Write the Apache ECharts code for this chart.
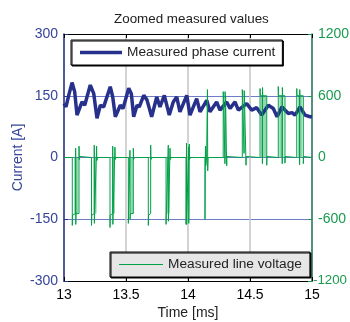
<!DOCTYPE html>
<html><head><meta charset="utf-8">
<script src="https://cdn.jsdelivr.net/npm/echarts@6/dist/echarts.min.js"></script>
<style>html,body{margin:0;padding:0;background:#fff}#c{width:350px;height:322px}</style>
</head><body><div id="c"></div>
<script>
// ---- data ----
const xTicks = [13, 13.5, 14, 14.5, 15];
const leftTicks = [-300, -150, 0, 150, 300];
const rightTicks = [-1200, -600, 0, 600, 1200];

const curT = [13.0,13.016,13.038,13.065,13.086,13.105,13.119,13.145,13.167,13.212,13.24,13.266,13.293,13.32,13.373,13.393,13.414,13.454,13.476,13.522,13.543,13.562,13.589,13.607,13.643,13.669,13.707,13.748,13.774,13.809,13.849,13.881,13.909,13.935,13.99,14.016,14.07,14.097,14.151,14.177,14.231,14.258,14.312,14.339,14.379,14.406,14.444,14.473,14.514,14.554,14.594,14.648,14.688,14.718,14.758,14.809,14.839,14.863,14.903,14.944,14.984,15.0];
const curV = [131,123,151,182,160,103,99,135,127,176,155,95,127,123,172,147,99,127,119,168,155,99,127,123,151,140,99,147,123,151,103,135,147,111,151,103,143,111,139,111,135,115,135,119,135,115,124,131,115,121,103,127,119,99,123,107,109,103,123,103,99,99];

const voltT = [13.000,13.067,13.067,13.069,13.094,13.094,13.095,13.097,13.121,13.121,13.123,13.127,13.132,
 13.222,13.222,13.224,13.244,13.244,13.245,13.247,13.263,13.263,13.265,13.270,
 13.371,13.371,13.373,13.393,13.393,13.394,13.396,13.411,13.411,13.413,13.420,
 13.519,13.519,13.521,13.532,13.532,13.533,13.535,13.559,13.559,13.561,13.568,
 13.680,13.680,13.682,13.699,13.699,13.701,13.708,
 13.823,13.823,13.825,13.841,13.841,13.842,13.844,13.855,13.855,13.857,13.864,
 13.984,13.984,13.986,13.988,13.988,13.989,13.991,14.005,14.005,14.006,14.008,14.010,14.010,14.012,14.020,
 14.137,14.137,14.139,14.141,14.144,14.150,
 14.157,14.157,14.159,14.162,
 14.284,14.284,14.286,14.298,14.298,14.299,14.301,14.312,14.312,14.314,14.320,
 14.438,14.438,14.440,14.452,14.452,14.453,14.455,14.468,14.468,14.470,14.478,
 14.581,14.581,14.583,14.600,14.600,14.601,14.603,14.635,14.635,14.637,14.645,
 14.728,14.728,14.730,14.760,14.760,14.761,14.763,14.782,14.782,14.784,14.792,
 14.877,14.877,14.879,14.900,14.900,14.901,14.903,14.930,14.930,14.932,14.940,15.000];
const voltV = [0,0,-660,-560,-545,90,-650,-545,-545,110,-20,10,0,
 0,-660,-560,-545,120,-640,-545,-545,110,-30,0,
 0,-680,-560,-545,110,-650,-545,-545,100,-20,0,
 0,-640,-560,-545,70,-600,-545,-545,90,-20,0,
 0,-660,-560,-545,120,-20,0,
 0,-650,-560,-545,120,-620,-545,-545,90,-20,0,
 0,-650,-560,-545,140,-650,-545,-545,100,-640,-545,-545,130,-20,0,
 0,-600,-100,110,-80,0,
 0,660,-130,0,
 0,640,600,600,-60,640,600,600,-80,10,0,
 0,660,600,600,40,650,600,600,-75,10,0,
 0,670,600,600,-60,680,600,600,-75,10,0,
 0,690,600,600,-60,680,600,600,-55,10,0,
 0,670,600,600,-70,660,600,600,-60,10,0,0];

// light-green dense switching regions
const fillStart = [13.081,13.244,13.393,13.535,13.830,14.298,14.588,14.736,14.886];
const fillEnd   = [13.115,13.263,13.411,13.556,13.852,14.310,14.630,14.770,14.922];
const fillLevel = [-545,-545,-545,-545,-545,600,600,600,600];

const FONT = 'Liberation Sans, Arial, Helvetica, sans-serif';
const BLUE = '#27318c', BLUE_TXT = '#36449a', GREEN = '#00a046', GREEN_TXT = '#1a9a50';
const plain = v => String(v);

const chart = echarts.init(document.getElementById('c'), null, {renderer: 'canvas'});
chart.setOption({
  animation: false,
  backgroundColor: '#fff',
  title: {text: 'Zoomed measured values', left: 109, top: 8,
    textStyle: {fontSize: 13.4, fontWeight: 'normal', color: '#222', fontFamily: FONT}},
  grid: {left: 64, right: 38, top: 34, bottom: 41, containLabel: false, outerBoundsMode: 'none'},
  xAxis: [
    {type: 'value', min: xTicks[0], max: xTicks[xTicks.length-1], interval: xTicks[1]-xTicks[0], position: 'bottom',
     axisLine: {onZero: false, lineStyle: {color: '#000', width: 1}},
     axisTick: {inside: true, length: 4, lineStyle: {color: '#000'}},
     axisLabel: {color: '#000', fontSize: 14, fontFamily: FONT, margin: 7, formatter: plain},
     splitLine: {show: true, lineStyle: {color: '#c4c4c4', width: 1.5}},
     name: 'Time [ms]', nameLocation: 'middle', nameGap: 25, nameMoveOverlap: false,
     nameTextStyle: {color: '#222', fontSize: 14, fontFamily: FONT}},
    {type: 'value', min: xTicks[0], max: xTicks[xTicks.length-1], interval: xTicks[1]-xTicks[0], position: 'top',
     axisLine: {onZero: false, lineStyle: {color: '#000', width: 1}},
     axisTick: {inside: true, length: 4, lineStyle: {color: '#000'}},
     axisLabel: {show: false}, splitLine: {show: false}}
  ],
  yAxis: [
    {type: 'value', min: leftTicks[0], max: leftTicks[leftTicks.length-1], interval: leftTicks[1]-leftTicks[0], position: 'left',
     axisLine: {show: true, onZero: false, lineStyle: {color: BLUE, width: 1.5}},
     axisTick: {show: true, inside: true, length: 4, lineStyle: {color: BLUE}},
     axisLabel: {color: BLUE_TXT, fontSize: 14, fontFamily: FONT, margin: 6, formatter: plain},
     splitLine: {show: true, lineStyle: {color: '#6f7cc8', width: 1}},
     name: 'Current [A]', nameLocation: 'middle', nameGap: 39, nameMoveOverlap: false,
     nameTextStyle: {color: BLUE_TXT, fontSize: 14, fontFamily: FONT}},
    {type: 'value', min: rightTicks[0], max: rightTicks[rightTicks.length-1], interval: rightTicks[1]-rightTicks[0], position: 'right',
     axisLine: {show: true, onZero: false, lineStyle: {color: '#2a7a66', width: 1.5}},
     axisTick: {show: true, inside: true, length: 4, lineStyle: {color: GREEN_TXT}},
     axisLabel: {color: GREEN_TXT, fontSize: 14, fontFamily: FONT, margin: 6,
       formatter: v => (v === rightTicks[0] ? '' : String(v))},
     splitLine: {show: false}}
  ],
  graphic: [
    {type: 'text', x: 313, y: 274, z: 100, silent: true,
     style: {text: String(rightTicks[0]), fill: GREEN_TXT, fontSize: 13.3, fontFamily: FONT}}
  ],
  legend: [
    {data: ['Measured phase current'], left: 71, top: 40, padding: [5, 7, 5, 9],
     icon: 'rect', itemWidth: 42, itemHeight: 3.5, backgroundColor: '#fff', borderColor: '#000', borderWidth: 1,
     shadowColor: '#000', shadowOffsetX: 1, shadowOffsetY: 1, shadowBlur: 0,
     textStyle: {fontSize: 13.7, color: '#222', fontFamily: FONT, lineHeight: 15}},
    {data: ['Measured line voltage'], left: 110, top: 252, padding: [5, 8, 5, 9],
     icon: 'rect', itemWidth: 44, itemHeight: 1, backgroundColor: '#e6e6e6', borderColor: '#000', borderWidth: 1,
     shadowColor: '#000', shadowOffsetX: 1, shadowOffsetY: 1, shadowBlur: 0,
     textStyle: {fontSize: 13.7, color: '#222', fontFamily: FONT, lineHeight: 15}}
  ],
  series: [
    {name: 'Measured phase current', type: 'line', xAxisIndex: 0, yAxisIndex: 0,
     data: curT.map((t, i) => [t, curV[i]]), symbol: 'none', z: 2,
     lineStyle: {color: BLUE, width: 3.5}, itemStyle: {color: BLUE}},
    {name: 'Measured line voltage', type: 'line', xAxisIndex: 0, yAxisIndex: 1,
     data: voltT.map((t, i) => [t, voltV[i]]), symbol: 'none', z: 3,
     lineStyle: {color: GREEN, width: 1}, itemStyle: {color: GREEN},
     markArea: {silent: true, itemStyle: {color: 'rgba(0,160,70,0.42)'},
       data: fillStart.map((s, i) => [{coord: [s, 0]}, {coord: [fillEnd[i], fillLevel[i]]}])}}
  ]
});
</script></body></html>
